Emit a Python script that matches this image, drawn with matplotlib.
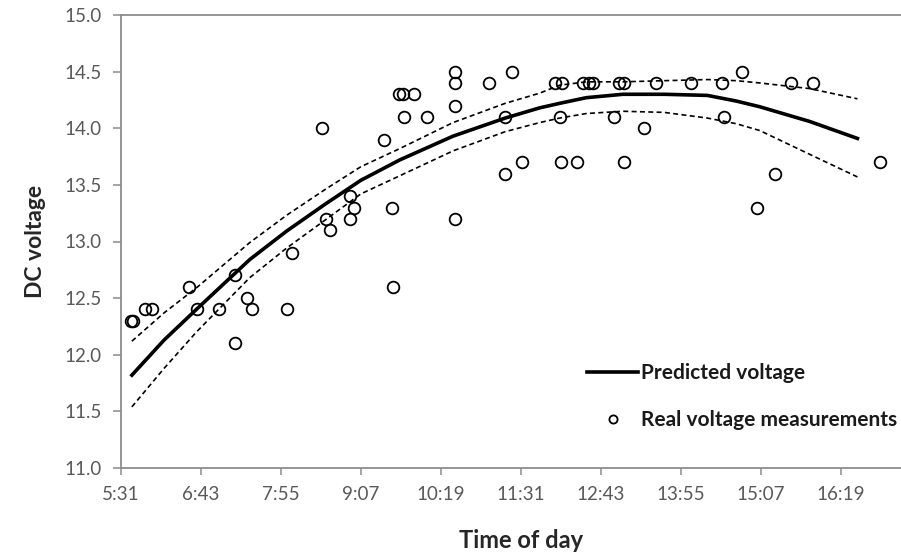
import numpy as np
import matplotlib.pyplot as plt

plt.rcParams['font.family'] = ['Lato', 'DejaVu Sans']

# measured DC voltage over the day
meas_time = ["5:40", "5:42", "5:53", "5:59", "6:32", "6:40", "6:59", "7:14", "7:14",
             "7:25", "7:29", "8:01", "8:05", "8:32", "8:36", "8:39", "8:57", "8:57",
             "9:01", "9:28", "9:35", "9:36", "9:41", "9:45", "9:46", "9:55", "10:07",
             "10:32", "10:32", "10:32", "10:32", "11:02", "11:17", "11:17", "11:23",
             "11:32", "12:02", "12:06", "12:07", "12:08", "12:22", "12:27", "12:32",
             "12:36", "12:55", "12:59", "13:04", "13:04", "13:22", "13:33", "14:04",
             "14:32", "14:34", "14:50", "15:04", "15:20", "15:34", "15:54", "16:54"]
meas_volt = [12.3, 12.3, 12.4, 12.4, 12.6, 12.4, 12.4, 12.7, 12.1,
             12.5, 12.4, 12.4, 12.9, 14.0, 13.2, 13.1, 13.4, 13.2,
             13.3, 13.9, 13.3, 12.6, 14.3, 14.3, 14.1, 14.3, 14.1,
             14.5, 14.4, 14.2, 13.2, 14.4, 14.1, 13.6, 14.5,
             13.7, 14.4, 14.1, 13.7, 14.4, 13.7, 14.4, 14.4,
             14.4, 14.1, 14.4, 13.7, 14.4, 14.0, 14.4, 14.4,
             14.4, 14.1, 14.5, 13.3, 13.6, 14.4, 14.4, 13.7]

# model prediction with upper / lower bounds
pred_time = ["5:41", "6:10", "6:39", "7:27", "8:00", "8:35", "9:07", "9:42", "10:30",
             "11:17", "11:48", "12:06", "12:30", "13:03", "13:40", "14:19", "14:45",
             "15:06", "15:51", "16:34"]
pred_volt = [11.82, 12.13, 12.40, 12.84, 13.09, 13.33, 13.54, 13.72, 13.93,
             14.09, 14.18, 14.22, 14.27, 14.30, 14.30, 14.29, 14.24,
             14.19, 14.06, 13.91]
pred_upper = [12.12, 12.37, 12.59, 12.99, 13.23, 13.46, 13.66, 13.82, 14.05,
              14.22, 14.31, 14.38, 14.41, 14.41, 14.42, 14.43, 14.42,
              14.40, 14.35, 14.26]
pred_lower = [11.54, 11.88, 12.20, 12.68, 12.94, 13.19, 13.42, 13.58, 13.80,
              13.97, 14.05, 14.09, 14.13, 14.15, 14.14, 14.09, 14.04,
              13.98, 13.77, 13.57]

tick_labels = ["5:31", "6:43", "7:55", "9:07", "10:19", "11:31", "12:43", "13:55", "15:07", "16:19"]


def to_hours(t):
    h, m = t.split(":")
    return int(h) + int(m) / 60.0


mx = np.array([to_hours(t) for t in meas_time])
px = np.array([to_hours(t) for t in pred_time])
ticks = 5.52 + 1.2 * np.arange(len(tick_labels))

fig = plt.figure(figsize=(9.01, 5.54), dpi=100)
ax = fig.add_axes([121 / 901, 86 / 554, 800 / 901, 453 / 554])

ax.plot(px, pred_upper, color='black', lw=1.2, ls=(0, (3, 2)))
ax.plot(px, pred_lower, color='black', lw=1.2, ls=(0, (3, 2)))
ax.plot(px, pred_volt, color='black', lw=2.6, label='Predicted voltage')
ax.plot(mx, meas_volt, ls='none', marker='o', ms=8.4, mfc='none', mec='black', mew=1.3,
        label='Real voltage measurements')

ax.set_xlim(5.52, 17.52)
ax.set_ylim(11.0, 15.0)
ax.set_xticks(ticks)
ax.set_xticklabels(tick_labels)
ax.set_yticks(np.arange(11.0, 15.01, 0.5))
ax.set_yticklabels(["%.1f" % v for v in np.arange(11.0, 15.01, 0.5)])

for side in ['left', 'bottom', 'top']:
    ax.spines[side].set_color('#8c8c8c')
    ax.spines[side].set_linewidth(1.3)
ax.spines['right'].set_visible(False)
ax.tick_params(axis='both', direction='out', color='#8c8c8c', width=1.1,
               labelsize=13.5, labelcolor='#595959')
ax.tick_params(axis='y', length=6, pad=8)
ax.tick_params(axis='x', length=5, pad=8)

ax.set_xlabel("Time of day", fontsize=17, fontweight='bold', color='#262626', labelpad=19)
ax.set_ylabel("DC voltage", fontsize=16.5, fontweight='bold', color='#262626', labelpad=13)

leg = ax.legend(loc='upper left', bbox_to_anchor=(587 / 901, 1 - 363 / 554),
                bbox_transform=fig.transFigure, frameon=False, borderpad=0,
                borderaxespad=0, handlelength=2.45, handletextpad=0.15,
                labelspacing=1.3, markerscale=0.7,
                prop={'weight': 'bold', 'size': 15})
for txt in leg.get_texts():
    txt.set_color('#1a1a1a')

fig.savefig("out.png", dpi=100)
